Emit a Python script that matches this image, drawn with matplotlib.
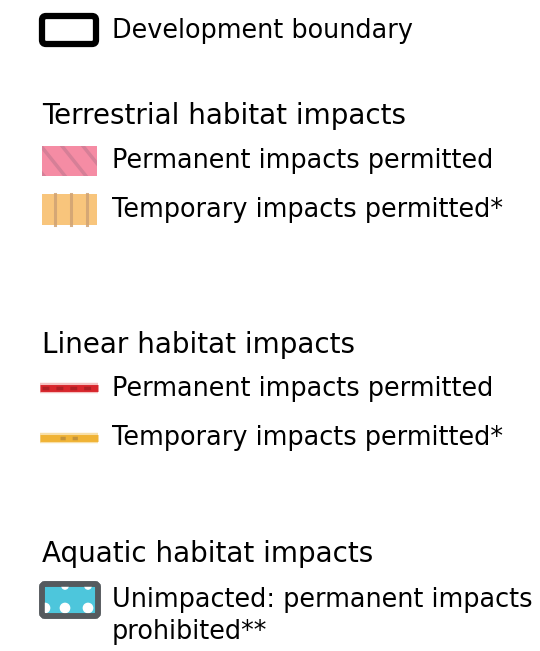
import matplotlib.pyplot as plt
from matplotlib.patches import FancyBboxPatch, Rectangle

# legend content
headings = ["Terrestrial habitat impacts", "Linear habitat impacts", "Aquatic habitat impacts"]
boundary_label = "Development boundary"
terrestrial_labels = ["Permanent impacts permitted", "Temporary impacts permitted*"]
linear_labels = ["Permanent impacts permitted", "Temporary impacts permitted*"]
aquatic_label = "Unimpacted: permanent impacts\nprohibited**"

W, H = 540, 651
fig = plt.figure(figsize=(W / 100, H / 100), dpi=100)
ax = fig.add_axes([0, 0, 1, 1])
ax.set_xlim(0, W)
ax.set_ylim(H, 0)
ax.axis("off")

fs_head = 20
fs = 18.4
txt = dict(fontsize=fs, va="center", ha="left", color="black", family="DejaVu Sans")
head = dict(txt, fontsize=fs_head)

# development boundary
ax.add_patch(FancyBboxPatch((42, 16), 54, 28, boxstyle="round,pad=0,rounding_size=4",
                            fc="white", ec="black", lw=4.5))
ax.text(112, 31, boundary_label, **txt)

# terrestrial
ax.text(42, 116, headings[0], **head)
pink = Rectangle((42, 146), 55, 30, fc="#f58ca4", ec="none")
ax.add_patch(pink)
for x0 in [12, 33, 54, 75]:
    ln, = ax.plot([x0, x0 + 40], [136, 186], color="#c97a92", lw=2.5, alpha=0.7)
    ln.set_clip_path(pink)
ax.text(112, 161, terrestrial_labels[0], **txt)

orange = Rectangle((42, 194), 55, 31, fc="#f8c57c", ec="none")
ax.add_patch(orange)
for x0 in [54.5, 71, 87]:
    ax.plot([x0, x0], [194, 225], color="#cfa274", lw=2.2, alpha=0.85)
ax.text(112, 210, terrestrial_labels[1], **txt)

# linear
ax.text(42, 345, headings[1], **head)
ax.plot([40, 98], [388, 388], color="#f4c0c0", lw=7.5, solid_capstyle="butt")
ax.plot([40, 98], [388, 388], color="#d8262c", lw=5, solid_capstyle="butt")
ax.plot([42, 97], [388, 388], color="#a51e22", lw=2.5, ls=(0, (2, 2)), alpha=0.8)
ax.text(112, 389, linear_labels[0], **txt)

ax.plot([40, 98], [437.5, 437.5], color="#f8dfa8", lw=7.5, solid_capstyle="butt")
ax.plot([40, 98], [437.5, 437.5], color="#f0b335", lw=5, solid_capstyle="butt")
ax.plot([60, 82], [437.5, 437.5], color="#b88a3a", lw=2.5, ls=(0, (1.5, 2)), alpha=0.8)
ax.text(112, 438, linear_labels[1], **txt)

# aquatic
ax.text(42, 554, headings[2], **head)
water = FancyBboxPatch((42, 584), 56, 32, boxstyle="round,pad=0,rounding_size=3",
                       fc="#4dc6dc", ec="#555a5e", lw=4)
ax.add_patch(water)
dots = ax.scatter([65, 88, 45, 65, 88], [608, 608, 608, 586, 586], s=[45, 45, 45, 20, 20],
                  color="white", zorder=2)
dots.set_clip_path(water)
ax.add_patch(FancyBboxPatch((42, 584), 56, 32, boxstyle="round,pad=0,rounding_size=3",
                            fc="none", ec="#555a5e", lw=4, zorder=3))
ax.text(112, 616, aquatic_label, fontsize=fs, va="center", ha="left",
        linespacing=1.3, family="DejaVu Sans")

fig.savefig("out.png", dpi=100)
